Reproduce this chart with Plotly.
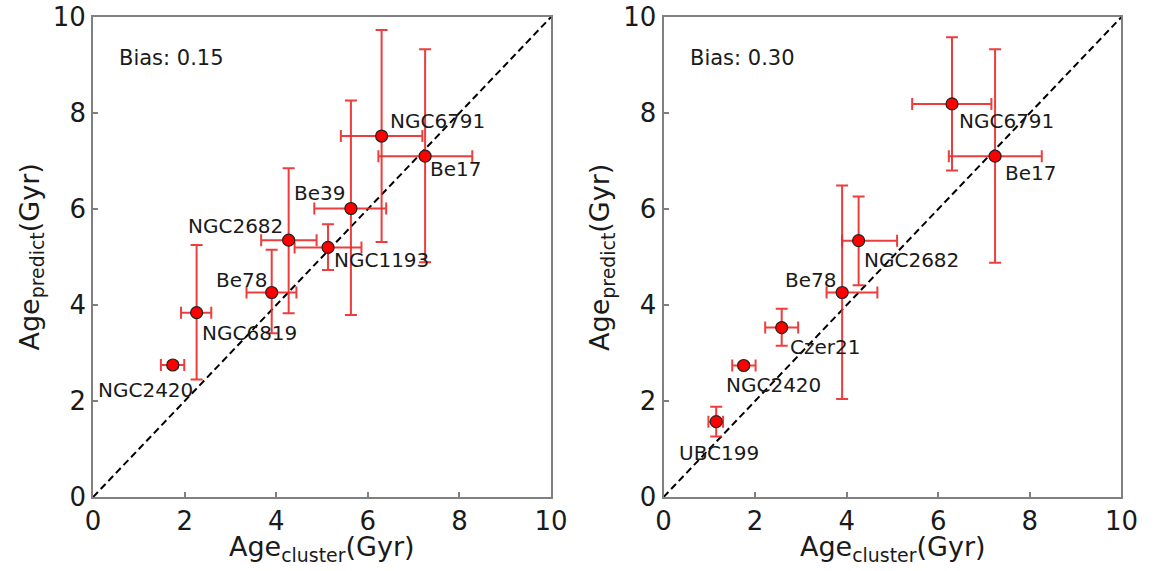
import plotly.graph_objects as go

# Left panel: cluster ages vs predicted ages (Gyr)
names_a = ["NGC6791", "Be17", "Be39", "NGC2682", "NGC1193", "Be78", "NGC6819", "NGC2420"]
age_cluster_a = [6.30, 7.25, 5.63, 4.27, 5.13, 3.90, 2.26, 1.74]
age_cluster_a_lo = [5.41, 6.23, 4.83, 3.67, 4.40, 3.35, 1.92, 1.48]
age_cluster_a_hi = [7.19, 8.28, 6.40, 4.88, 5.86, 4.44, 2.58, 1.99]
age_pred_a = [7.52, 7.10, 6.01, 5.35, 5.20, 4.26, 3.84, 2.75]
age_pred_a_lo = [5.31, 4.89, 3.79, 3.83, 4.73, 3.41, 2.45, 2.70]
age_pred_a_hi = [9.73, 9.33, 8.26, 6.85, 5.68, 5.15, 5.25, 2.80]
bias_a = "0.15"

# Right panel
names_b = ["NGC6791", "Be17", "NGC2682", "Be78", "Czer21", "NGC2420", "UBC199"]
age_cluster_b = [6.30, 7.24, 4.26, 3.90, 2.58, 1.75, 1.15]
age_cluster_b_lo = [5.43, 6.23, 3.90, 3.56, 2.22, 1.50, 0.98]
age_cluster_b_hi = [7.16, 8.26, 5.10, 4.67, 2.94, 2.01, 1.30]
age_pred_b = [8.19, 7.10, 5.34, 4.26, 3.53, 2.74, 1.57]
age_pred_b_lo = [6.80, 4.88, 4.41, 2.04, 3.15, 2.69, 1.26]
age_pred_b_hi = [9.58, 9.33, 6.26, 6.49, 3.92, 2.79, 1.88]
bias_b = "0.30"

axis_range = [0, 10]
tick_vals = [0, 2, 4, 6, 8, 10]

# label placement: (anchor, x offset px, y offset px downward)
label_pos_a = [("left", 6, -15), ("left", 3, 13), ("right", -4, -16), ("right", -4, -14),
               ("left", 4, 13), ("right", -3, -13), ("left", 3, 20), ("right", 22, 25)]
label_pos_b = [("left", 5, 17), ("left", 8, 17), ("left", 3, 19), ("right", -4, -13),
               ("left", 6, 19), ("left", -20, 20), ("left", -39, 31)]

W, H = 1159, 571
TXT = "#1a1a1a"
FRAME = "#808080"
FONT = "DejaVu Sans"

fig = go.Figure()


def add_panel(idx, names, xs, xlo, xhi, ys, ylo, yhi, bias, label_pos):
    xa = "x" if idx == 1 else "x2"
    ya = "y" if idx == 1 else "y2"
    # one-to-one reference line
    fig.add_trace(go.Scatter(x=axis_range, y=axis_range, mode="lines",
                             line=dict(color="black", width=2, dash="7px,4px"),
                             xaxis=xa, yaxis=ya, showlegend=False, hoverinfo="skip"))
    fig.add_trace(go.Scatter(
        x=xs, y=ys, mode="markers",
        marker=dict(color="#ff0000", size=12, line=dict(color="#222", width=1.2)),
        error_x=dict(type="data", symmetric=False,
                     array=[h - v for h, v in zip(xhi, xs)],
                     arrayminus=[v - l for l, v in zip(xlo, xs)],
                     color="rgba(235,40,40,0.9)", thickness=2, width=6),
        error_y=dict(type="data", symmetric=False,
                     array=[h - v for h, v in zip(yhi, ys)],
                     arrayminus=[v - l for l, v in zip(ylo, ys)],
                     color="rgba(235,40,40,0.9)", thickness=2, width=6),
        xaxis=xa, yaxis=ya, showlegend=False))
    for n, x, y, (anc, dx, dy) in zip(names, xs, ys, label_pos):
        fig.add_annotation(x=x, y=y, xref=xa, yref=ya, text=n, showarrow=False,
                           xanchor=anc, yanchor="middle", xshift=dx, yshift=-dy,
                           font=dict(family=FONT, size=20, color=TXT))
    fig.add_annotation(x=0.53, y=9.14, xref=xa, yref=ya, text="Bias: " + bias,
                       showarrow=False, xanchor="left", yanchor="middle",
                       font=dict(family=FONT, size=21, color=TXT))


add_panel(1, names_a, age_cluster_a, age_cluster_a_lo, age_cluster_a_hi,
          age_pred_a, age_pred_a_lo, age_pred_a_hi, bias_a, label_pos_a)
add_panel(2, names_b, age_cluster_b, age_cluster_b_lo, age_cluster_b_hi,
          age_pred_b, age_pred_b_lo, age_pred_b_hi, bias_b, label_pos_b)

top, bottom = 17, 497
dom_a = [87 / W, 555 / W]
dom_b = [670 / W, 1138 / W]

axis_common = dict(range=axis_range, tickvals=tick_vals, showgrid=False, zeroline=False,
                   showline=True, linecolor=FRAME, linewidth=2, mirror=True,
                   ticks="inside", ticklen=5, tickwidth=1.5, tickcolor=FRAME,
                   tickfont=dict(family=FONT, size=26, color=TXT))

fig.update_layout(
    width=W, height=H, paper_bgcolor="white", plot_bgcolor="white",
    margin=dict(l=0, r=0, t=top, b=H - bottom),
    xaxis=dict(domain=dom_a, anchor="y", **axis_common),
    yaxis=dict(domain=[0, 1], anchor="x", **axis_common),
    xaxis2=dict(domain=dom_b, anchor="y2", **axis_common),
    yaxis2=dict(domain=[0, 1], anchor="x2", **axis_common),
)

# axis titles
for dom in (dom_a, dom_b):
    cx = (dom[0] + dom[1]) / 2
    fig.add_annotation(x=cx, y=-(562 - bottom) / (bottom - top), xref="paper", yref="paper",
                       text="Age<sub>cluster</sub>(Gyr)", showarrow=False,
                       xanchor="center", yanchor="bottom", yshift=-6,
                       font=dict(family=FONT, size=27, color=TXT))
    fig.add_annotation(x=dom[0] - 64 / W, y=0.5, xref="paper", yref="paper",
                       text="Age<sub>predict</sub>(Gyr)", showarrow=False, textangle=-90,
                       xanchor="center", yanchor="middle",
                       font=dict(family=FONT, size=27, color=TXT))

fig.write_html("out.html")
